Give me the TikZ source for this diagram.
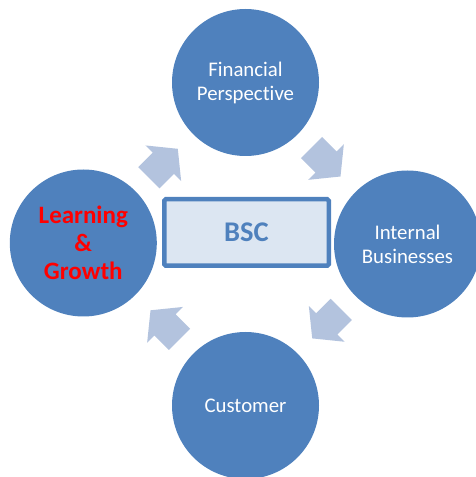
\documentclass[tikz,border=0pt]{standalone}
\usepackage{fontspec}
\setmainfont{Carlito}[Ligatures={NoCommon,NoRare,NoContextual},Contextuals=NoAlternate]
\definecolor{accent}{HTML}{4F81BD}
\definecolor{arrowblue}{HTML}{B3C3DE}
\definecolor{panel}{HTML}{DCE6F2}
\definecolor{alert}{HTML}{FF0000}
\tikzset{
  stage/.style={circle, fill=accent, minimum size=147pt, inner sep=0pt,
    text=white, align=center, font=\fontsize{20.8}{24}\selectfont},
  keystage/.style={stage, text=alert, font=\bfseries\fontsize{25}{28.3}\selectfont},
  core/.style={rectangle, draw=accent, fill=panel, line width=4.5pt,
    rounded corners=1.5pt, minimum width=164.5pt, minimum height=66.5pt,
    text=accent, font=\bfseries\fontsize{28.5}{30}\selectfont},
  blockarrow/.pic={
    \fill[arrowblue] (-20.5,-15) -- (0,-15) -- (0,-25.25) -- (20.5,0)
      -- (0,25.25) -- (0,15) -- (-20.5,15) -- cycle;
  }
}
\begin{document}
\begin{tikzpicture}[x=1pt,y=1pt]
  \useasboundingbox (0,0) rectangle (476,477);
  \clip (0,0) rectangle (476,477);

  % the four perspectives (kern keeps "t" and "i" as separate glyphs)
  \node[stage]    (fin)  at (245.5,394.5) {Financial\\Perspec\kern0pt tive};
  \node[stage]    (int)  at (407.5,233)   {Internal\\Businesses};
  \node[stage]    (cus)  at (245.5,71.5)  {Customer};
  \node[keystage] (lrn)  at (83.3,234)    {Learning\\\&\\Growth};

  % scorecard in the middle
  \node[core] (bsc) at (246.5,244.5) {BSC};

  % cycle arrows between the perspectives
  \pic[rotate=45]   (a1) at (163.3,313.7) {blockarrow};
  \pic[rotate=-45]  (a2) at (326,315)     {blockarrow};
  \pic[rotate=-135] (a3) at (326.7,153.1) {blockarrow};
  \pic[rotate=135]  (a4) at (165,152.2)   {blockarrow};
\end{tikzpicture}
\end{document}
